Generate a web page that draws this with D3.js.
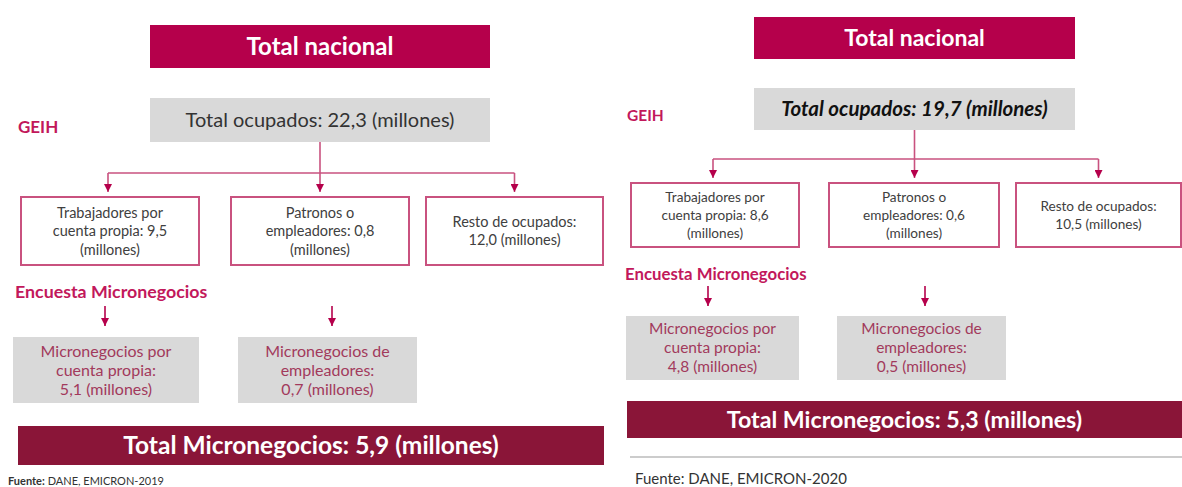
<!DOCTYPE html>
<html>
<head>
<meta charset="utf-8">
<script src="https://cdn.jsdelivr.net/npm/d3@7"></script>
<style>
  body { margin: 0; background: #fff; }
  svg { display: block; font-family: Lato, "Open Sans", sans-serif; }
</style>
</head>
<body>
<div class="svg-container"></div>
<script>
// values (millones) per survey year
const years = ["2019", "2020"];
const totalOcupados = [22.3, 19.7];
const cuentaPropia = [9.5, 8.6];
const patronos = [0.8, 0.6];
const restoOcupados = [12.0, 10.5];
const microCuentaPropia = [5.1, 4.8];
const microEmpleadores = [0.7, 0.5];
const totalMicro = [5.9, 5.3];

const width = 1182, height = 487;
const red = "#b5004b", maroon = "#8a1538", pink = "#c9527f", grey = "#d9d9d9";

const fmt = d3.formatLocale({decimal: ",", thousands: ".", grouping: [3], currency: ["$", ""]}).format(".1f");

// box geometry of each panel (layout only)
const layouts = [
  { top: {x: 150, w: 340, y: 25, h: 43, fs: 24}, occ: {y: 98, h: 44, fs: 20, italic: false},
    geih: {x: 18, y: 127, fs: 17}, hy: 173, tip: 192,
    boxes: [{x: 20, w: 180}, {x: 230, w: 180}, {x: 425, w: 179}], by: 197, bh: 68, bfs: 14.5, lh: 18.5,
    enc: {x: 15, y: 292, fs: 17.8}, arr: {y0: 306, y1: 326, xs: [105, 332]},
    micro: [{x: 13, w: 186}, {x: 238, w: 179}], my: 337, mh: 66, mfs: 16, mlh: 19,
    tot: {x: 18, w: 586, y: 426, h: 39, fs: 24.5},
    src: {x: 8, y: 485, fs: 11, bold: true, color: "#333"}, rule: null },
  { top: {x: 754, w: 321, y: 17, h: 42, fs: 23}, occ: {y: 88, h: 42, fs: 20.5, italic: true},
    geih: {x: 627, y: 116, fs: 15.5}, hy: 159, tip: 178,
    boxes: [{x: 630, w: 170}, {x: 828, w: 172}, {x: 1015, w: 167}], by: 183, bh: 64, bfs: 13.6, lh: 18,
    enc: {x: 625, y: 274, fs: 16.8}, arr: {y0: 286, y1: 306, xs: [708, 925]},
    micro: [{x: 626, w: 173}, {x: 837, w: 169}], my: 316, mh: 64, mfs: 15.5, mlh: 19,
    tot: {x: 627, w: 555, y: 401, h: 37, fs: 23.2},
    src: {x: 635, y: 484, fs: 15, bold: false, color: "#333"}, rule: {y: 457, x0: 630, x1: 1182} }
];

const svg = d3.select('.svg-container')
  .append('svg')
  .attr('width', width)
  .attr('height', height);

const defs = svg.append("defs");
defs.append("marker")
  .attr("id", "head")
  .attr("viewBox", "0 0 10 10")
  .attr("refX", 10).attr("refY", 5)
  .attr("markerWidth", 8).attr("markerHeight", 8)
  .attr("markerUnits", "userSpaceOnUse")
  .attr("orient", "auto")
  .append("path")
  .attr("d", "M0,0L10,5L0,10Z")
  .attr("fill", red);

function multiText(g, lines, cx, cy, fs, lh, color, weight, style) {
  const t = g.append("text")
    .attr("text-anchor", "middle")
    .attr("font-size", fs)
    .attr("fill", color)
    .attr("font-weight", weight || "normal")
    .attr("font-style", style || "normal");
  const y0 = cy - (lines.length - 1) * lh / 2;
  lines.forEach((l, i) => {
    t.append("tspan").attr("x", cx).attr("y", y0 + i * lh).attr("dy", "0.35em").text(l);
  });
}

years.forEach((yr, i) => {
  const L = layouts[i];
  const g = svg.append("g").attr("class", "panel-" + yr);

  // header
  g.append("rect").attr("x", L.top.x).attr("y", L.top.y).attr("width", L.top.w).attr("height", L.top.h).attr("fill", red);
  multiText(g, ["Total nacional"], L.top.x + L.top.w / 2, L.top.y + L.top.h / 2, L.top.fs, 0, "#fff", "bold");

  // total ocupados
  g.append("rect").attr("x", L.top.x).attr("y", L.occ.y).attr("width", L.top.w).attr("height", L.occ.h).attr("fill", grey);
  multiText(g, ["Total ocupados: " + fmt(totalOcupados[i]) + " (millones)"],
    L.top.x + L.top.w / 2, L.occ.y + L.occ.h / 2, L.occ.fs, 0, L.occ.italic ? "#111" : "#333",
    L.occ.italic ? "bold" : "normal", L.occ.italic ? "italic" : "normal");

  g.append("text").attr("x", L.geih.x).attr("y", L.geih.y).attr("dy", "0.35em")
    .attr("font-size", L.geih.fs).attr("font-weight", "bold").attr("fill", "#c2185b").text("GEIH");

  // connectors
  const mid = L.top.x + L.top.w / 2;
  const xs = [L.boxes[0].x + L.boxes[0].w / 2 - 2, mid, L.boxes[2].x + L.boxes[2].w / 2];
  g.append("path")
    .attr("d", `M${xs[0]},${L.hy}H${xs[2]}`)
    .attr("stroke", pink).attr("stroke-width", 1.6).attr("fill", "none");
  g.append("path")
    .attr("d", `M${mid},${L.occ.y + L.occ.h}V${L.tip}`)
    .attr("stroke", pink).attr("stroke-width", 1.6).attr("fill", "none")
    .attr("marker-end", "url(#head)");
  [xs[0], xs[2]].forEach(x => {
    g.append("path")
      .attr("d", `M${x},${L.hy}V${L.tip}`)
      .attr("stroke", pink).attr("stroke-width", 1.6).attr("fill", "none")
      .attr("marker-end", "url(#head)");
  });

  // GEIH boxes
  const geihText = [
    ["Trabajadores por", "cuenta propia: " + fmt(cuentaPropia[i]), "(millones)"],
    ["Patronos o", "empleadores: " + fmt(patronos[i]), "(millones)"],
    ["Resto de ocupados:", fmt(restoOcupados[i]) + " (millones)"]
  ];
  L.boxes.forEach((b, j) => {
    g.append("rect").attr("x", b.x + 1).attr("y", L.by).attr("width", b.w - 2).attr("height", L.bh)
      .attr("fill", "#fff").attr("stroke", pink).attr("stroke-width", 2);
    multiText(g, geihText[j], b.x + b.w / 2, L.by + L.bh / 2, L.bfs, L.lh, "#404040");
  });

  // micronegocios
  g.append("text").attr("x", L.enc.x).attr("y", L.enc.y).attr("dy", "0.35em")
    .attr("font-size", L.enc.fs).attr("font-weight", "bold").attr("fill", "#c2185b").text("Encuesta Micronegocios");
  L.arr.xs.forEach(x => {
    g.append("path").attr("d", `M${x},${L.arr.y0}V${L.arr.y1}`)
      .attr("stroke", red).attr("stroke-width", 1.6).attr("marker-end", "url(#head)");
  });
  const microText = [
    ["Micronegocios por", "cuenta propia:", fmt(microCuentaPropia[i]) + " (millones)"],
    ["Micronegocios de", "empleadores:", fmt(microEmpleadores[i]) + " (millones)"]
  ];
  L.micro.forEach((b, j) => {
    g.append("rect").attr("x", b.x).attr("y", L.my).attr("width", b.w).attr("height", L.mh).attr("fill", grey);
    multiText(g, microText[j], b.x + b.w / 2, L.my + L.mh / 2, L.mfs, L.mlh, "#a23a5c");
  });

  // total micronegocios
  g.append("rect").attr("x", L.tot.x).attr("y", L.tot.y).attr("width", L.tot.w).attr("height", L.tot.h).attr("fill", maroon);
  multiText(g, ["Total Micronegocios: " + fmt(totalMicro[i]) + " (millones)"],
    L.tot.x + L.tot.w / 2, L.tot.y + L.tot.h / 2, L.tot.fs, 0, "#fff", "bold");

  if (L.rule) {
    g.append("line").attr("x1", L.rule.x0).attr("x2", L.rule.x1).attr("y1", L.rule.y).attr("y2", L.rule.y)
      .attr("stroke", "#999").attr("stroke-width", 1.2);
  }

  const src = g.append("text").attr("x", L.src.x).attr("y", L.src.y)
    .attr("font-size", L.src.fs).attr("fill", L.src.color);
  src.append("tspan").attr("font-weight", L.src.bold ? "bold" : "normal").text("Fuente:");
  src.append("tspan").text(" DANE, EMICRON-" + yr);
});
</script>
</body>
</html>
